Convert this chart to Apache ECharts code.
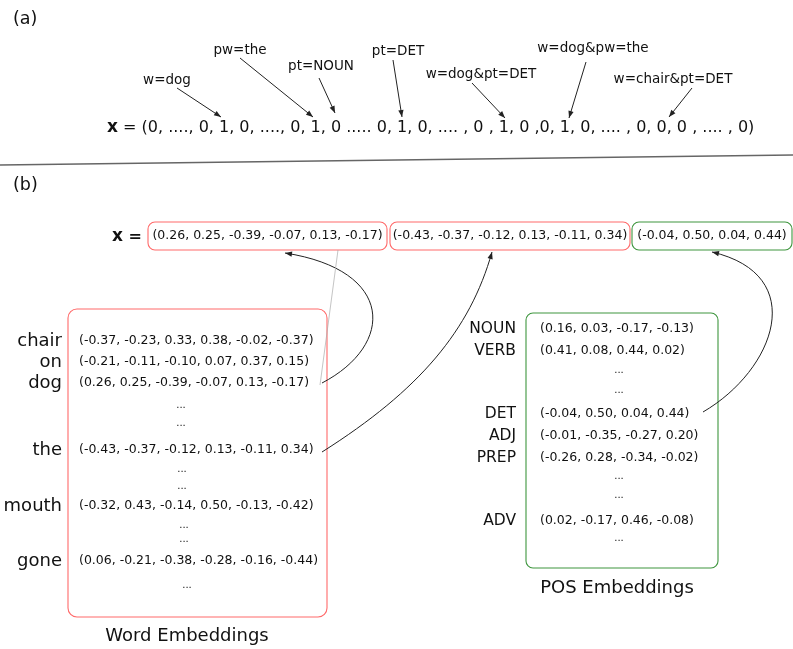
<!DOCTYPE html>
<html><head><meta charset="utf-8">
<script src="https://cdn.jsdelivr.net/npm/echarts@6/dist/echarts.min.js"></script>
<style>html,body{margin:0;padding:0;background:#fff}#c{width:793px;height:649px}</style>
</head><body><div id="c"></div>
<script>
// ---------------- data ----------------
const panelTitles = ['(a)', '(b)'];
const featureLabels = ['w=dog', 'pw=the', 'pt=NOUN', 'pt=DET', 'w=dog&pt=DET', 'w=dog&pw=the', 'w=chair&pt=DET'];
const oneHotVector = '(0, ...., 0, 1, 0, ...., 0, 1, 0 ..... 0, 1, 0, .... , 0 , 1, 0 ,0, 1, 0, .... , 0, 0, 0 , .... , 0)';
const words = ['chair', 'on', 'dog', 'the', 'mouth', 'gone'];
const wordVectors = [
  [-0.37, -0.23, 0.33, 0.38, -0.02, -0.37],
  [-0.21, -0.11, -0.10, 0.07, 0.37, 0.15],
  [0.26, 0.25, -0.39, -0.07, 0.13, -0.17],
  [-0.43, -0.37, -0.12, 0.13, -0.11, 0.34],
  [-0.32, 0.43, -0.14, 0.50, -0.13, -0.42],
  [0.06, -0.21, -0.38, -0.28, -0.16, -0.44]
];
const posTags = ['NOUN', 'VERB', 'DET', 'ADJ', 'PREP', 'ADV'];
const posVectors = [
  [0.16, 0.03, -0.17, -0.13],
  [0.41, 0.08, 0.44, 0.02],
  [-0.04, 0.50, 0.04, 0.44],
  [-0.01, -0.35, -0.27, 0.20],
  [-0.26, 0.28, -0.34, -0.02],
  [0.02, -0.17, 0.46, -0.08]
];
const inputFeatures = [['word', 'dog'], ['word', 'the'], ['pos', 'DET']];
const tableTitles = ['Word Embeddings', 'POS Embeddings'];

// ---------------- layout (positions / styles only) ----------------
const FONT = '"DejaVu Sans", Verdana, sans-serif';
const RED = '#ff6a6a', GREEN = '#3f963f', INK = '#111', ARROW = '#222';
const VEC_FS = 12.5;
const L = {
  titles: [[13, 19], [13, 185]],
  featPos: [[167, 80], [240, 50], [321, 66], [398, 51], [481, 74], [593, 48], [673, 79]],
  featArrows: [[[177, 88], [221, 117]], [[240, 58], [313, 117]], [[319, 78], [335, 113]],
    [[393, 60], [402, 117]], [[472, 83], [505, 118]], [[586, 62], [569, 118]], [[692, 88], [669, 117]]],
  oneHot: [107, 128],
  sep: [[0, 165], [793, 155]],
  xLabel: [112, 237],
  xBoxes: [[148, 222, 239, 28, RED], [390, 222, 240, 28, RED], [632, 222, 160, 28, GREEN]],
  wordBox: [68, 309, 259, 308],
  wordLabelX: 62, wordVecX: 79,
  wordRowsY: [341, 362, 383, 450, 506, 561],
  wordDots: [[181, 407], [181, 425], [182, 471], [182, 488], [184, 527], [184, 541], [187, 587]],
  posBox: [526, 313, 192, 255],
  posLabelX: 516, posVecX: 540,
  posRowsY: [329, 351, 414, 436, 458, 521],
  posDots: [[619, 372], [619, 392], [619, 478], [619, 497], [619, 540]],
  tableTitlePos: [[187, 636], [617, 588]],
  thinLine: [[338, 250], [320, 385]],
  curves: [
    [[322, 383], [395, 345], [395, 270], [285, 253]],
    [[322, 452], [420, 390], [470, 330], [492, 252]],
    [[703, 412], [775, 370], [810, 275], [712, 252]]
  ]
};

const fmt = v => (v < 0 ? '-' : '') + Math.abs(v).toFixed(2);
const vecText = arr => '(' + arr.map(fmt).join(', ') + ')';
const lookup = ([kind, key]) => kind === 'word' ? wordVectors[words.indexOf(key)] : posVectors[posTags.indexOf(key)];

function txt(api, p, text, size, opts) {
  const c = api.coord(p);
  return { type: 'text', x: c[0], y: c[1], silent: true,
    style: Object.assign({ text: text, fontSize: size, fontFamily: FONT, fill: INK, align: 'center', verticalAlign: 'middle' }, opts || {}) };
}
function head(api, tip, from, size) {
  const t = api.coord(tip), f = api.coord(from);
  const a = Math.atan2(t[1] - f[1], t[0] - f[0]);
  const s = size || 7, w = s * 0.38;
  const bx = t[0] - s * Math.cos(a), by = t[1] - s * Math.sin(a);
  return { type: 'polygon', silent: true, shape: { points: [t, [bx + w * Math.sin(a), by - w * Math.cos(a)], [bx - w * Math.sin(a), by + w * Math.cos(a)]] }, style: { fill: ARROW } };
}
function arrowLine(api, a, b) {
  const p = api.coord(a), q = api.coord(b);
  return [{ type: 'line', silent: true, shape: { x1: p[0], y1: p[1], x2: q[0], y2: q[1] }, style: { stroke: ARROW, lineWidth: 1 } }, head(api, b, a)];
}
function rect(api, r, color, radius) {
  const p = api.coord([r[0], r[1]]);
  return { type: 'rect', silent: true, shape: { x: p[0], y: p[1], width: r[2], height: r[3], r: radius }, style: { fill: null, stroke: color, lineWidth: 1.1 } };
}
const boldX = { b: { fontWeight: 'bold', fontSize: 17, fontFamily: FONT, fill: INK } };

const series = [];
// (a) panel: feature labels and arrows
series.push({ type: 'custom', coordinateSystem: 'cartesian2d', data: featureLabels.map((f, i) => [i]),
  renderItem: (params, api) => {
    const i = api.value(0);
    return { type: 'group', children: [txt(api, L.featPos[i], featureLabels[i], 13.5)].concat(arrowLine(api, L.featArrows[i][0], L.featArrows[i][1])) };
  } });
// titles, one-hot vector, separator
series.push({ type: 'custom', coordinateSystem: 'cartesian2d', data: [[0]],
  renderItem: (params, api) => {
    const ch = panelTitles.map((t, i) => txt(api, L.titles[i], t, 17.5, { align: 'left' }));
    const o = api.coord(L.oneHot);
    ch.push({ type: 'text', x: o[0], y: o[1], silent: true, style: { text: '{b|x} = ' + oneHotVector, fontSize: 16, fontFamily: FONT, fill: INK, align: 'left', verticalAlign: 'middle', rich: boldX } });
    const s0 = api.coord(L.sep[0]), s1 = api.coord(L.sep[1]);
    ch.push({ type: 'line', silent: true, shape: { x1: s0[0], y1: s0[1], x2: s1[0], y2: s1[1] }, style: { stroke: '#666', lineWidth: 1.4 } });
    ch.push(txt(api, L.xLabel, '{b|x} =', 16, { align: 'left', fontWeight: 'bold', rich: boldX }));
    return { type: 'group', children: ch };
  } });
// input vector boxes
series.push({ type: 'custom', coordinateSystem: 'cartesian2d', data: inputFeatures.map((f, i) => [i]),
  renderItem: (params, api) => {
    const i = api.value(0), b = L.xBoxes[i];
    return { type: 'group', children: [rect(api, b, b[4], 7), txt(api, [b[0] + b[2] / 2, b[1] + b[3] / 2], vecText(lookup(inputFeatures[i])), VEC_FS)] };
  } });
// word embedding table
series.push({ type: 'custom', coordinateSystem: 'cartesian2d', data: words.map((w, i) => [i]),
  renderItem: (params, api) => {
    const i = api.value(0), y = L.wordRowsY[i];
    const ch = [txt(api, [L.wordLabelX, y], words[i], 18, { align: 'right' }), txt(api, [L.wordVecX, y], vecText(wordVectors[i]), VEC_FS, { align: 'left' })];
    if (i === 0) {
      ch.push(rect(api, L.wordBox, RED, 9));
      L.wordDots.forEach(d => ch.push(txt(api, [d[0], d[1] - 2], '...', 10)));
      ch.push(txt(api, L.tableTitlePos[0], tableTitles[0], 18));
    }
    return { type: 'group', children: ch };
  } });
// POS embedding table
series.push({ type: 'custom', coordinateSystem: 'cartesian2d', data: posTags.map((w, i) => [i]),
  renderItem: (params, api) => {
    const i = api.value(0), y = L.posRowsY[i];
    const ch = [txt(api, [L.posLabelX, y], posTags[i], 15.5, { align: 'right' }), txt(api, [L.posVecX, y], vecText(posVectors[i]), VEC_FS, { align: 'left' })];
    if (i === 0) {
      ch.push(rect(api, L.posBox, GREEN, 7));
      L.posDots.forEach(d => ch.push(txt(api, [d[0], d[1] - 2], '...', 10)));
      ch.push(txt(api, L.tableTitlePos[1], tableTitles[1], 18));
    }
    return { type: 'group', children: ch };
  } });
// connecting curves
series.push({ type: 'custom', coordinateSystem: 'cartesian2d', data: L.curves.map((c, i) => [i]),
  renderItem: (params, api) => {
    const k = api.value(0);
    const c = L.curves[k].map(p => api.coord(p));
    const ch = [{ type: 'bezierCurve', silent: true, shape: { x1: c[0][0], y1: c[0][1], cpx1: c[1][0], cpy1: c[1][1], cpx2: c[2][0], cpy2: c[2][1], x2: c[3][0], y2: c[3][1] }, style: { stroke: ARROW, fill: null, lineWidth: 1 } },
      head(api, L.curves[k][3], L.curves[k][2])];
    if (k === 0) {
      const a = api.coord(L.thinLine[0]), b = api.coord(L.thinLine[1]);
      ch.push({ type: 'line', silent: true, shape: { x1: a[0], y1: a[1], x2: b[0], y2: b[1] }, style: { stroke: '#aaa', lineWidth: 0.7 } });
    }
    return { type: 'group', children: ch };
  } });

const chart = echarts.init(document.getElementById('c'));
chart.setOption({
  animation: false,
  grid: { left: 0, right: 0, top: 0, bottom: 0 },
  xAxis: { type: 'value', min: 0, max: 793, show: false },
  yAxis: { type: 'value', min: 0, max: 649, inverse: true, show: false },
  series: series
});
</script></body></html>
